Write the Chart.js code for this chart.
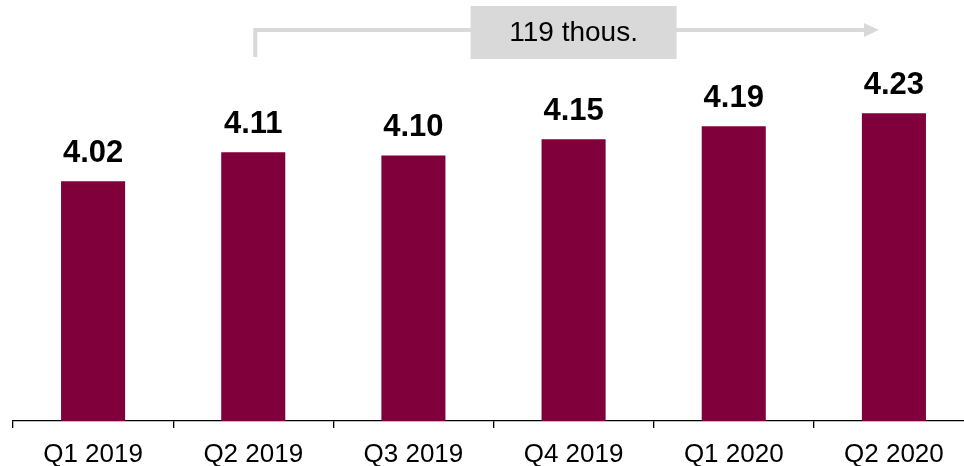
<!DOCTYPE html>
<html>
<head>
<meta charset="utf-8">
<script src="https://cdn.jsdelivr.net/npm/chart.js@4"></script>
<style>
  html, body { margin: 0; padding: 0; background: #fff; overflow: hidden; }
  #wrap { position: absolute; left: 0; top: 0; width: 974px; height: 466px; }
</style>
</head>
<body>
<div id="wrap"><canvas id="chart"></canvas></div>
<script>
// Quarterly figures (millions)
const quarters = ['Q1 2019', 'Q2 2019', 'Q3 2019', 'Q4 2019', 'Q1 2020', 'Q2 2020'];
const values = [4.02, 4.11, 4.10, 4.15, 4.19, 4.23];
const valueLabels = ['4.02', '4.11', '4.10', '4.15', '4.19', '4.23'];
// Growth callout from Q2 2019 to Q2 2020
const growthLabel = '119 thous.';
const growthFrom = 1;
const growthTo = 5;

const FONT = '"Liberation Sans", Arial, Helvetica, sans-serif';
const BAR = '#7f003a';
const CALLOUT = '#d9d9d9';

// Bold value labels above each bar
const valueLabelPlugin = {
  id: 'valueLabels',
  afterDatasetsDraw(chart) {
    const ctx = chart.ctx;
    const meta = chart.getDatasetMeta(0);
    ctx.save();
    ctx.font = 'bold 31px ' + FONT;
    ctx.fillStyle = '#000';
    ctx.textAlign = 'center';
    ctx.textBaseline = 'alphabetic';
    meta.data.forEach((bar, i) => {
      ctx.fillText(valueLabels[i], bar.x, bar.y - 19);
    });
    ctx.restore();
  }
};

// Elbow arrow with a grey box carrying the change
const growthArrowPlugin = {
  id: 'growthArrow',
  afterDraw(chart) {
    const ctx = chart.ctx;
    const xs = chart.scales.x;
    const x0 = xs.getPixelForValue(growthFrom) + 2;
    const x1 = xs.getPixelForValue(growthTo) - 15;
    const yLine = 30;
    const yFoot = 57;
    ctx.save();
    ctx.strokeStyle = CALLOUT;
    ctx.fillStyle = CALLOUT;
    ctx.lineWidth = 4;
    ctx.lineJoin = 'miter';
    ctx.beginPath();
    ctx.moveTo(x0, yFoot);
    ctx.lineTo(x0, yLine);
    ctx.lineTo(x1 - 14, yLine);
    ctx.stroke();
    // arrow head
    ctx.beginPath();
    ctx.moveTo(x1 - 15, yLine - 7);
    ctx.lineTo(x1, yLine);
    ctx.lineTo(x1 - 15, yLine + 7);
    ctx.closePath();
    ctx.fill();
    // label box
    const cx = (xs.getPixelForValue(growthFrom) + xs.getPixelForValue(growthTo)) / 2;
    const bw = 206, bh = 53;
    ctx.fillRect(cx - bw / 2, 6, bw, bh);
    ctx.fillStyle = '#000';
    ctx.font = '28px ' + FONT;
    ctx.textAlign = 'center';
    ctx.textBaseline = 'middle';
    ctx.fillText(growthLabel, cx, 33);
    ctx.restore();
  }
};

new Chart(document.getElementById('chart'), {
  type: 'bar',
  data: {
    labels: quarters,
    datasets: [{
      data: values,
      backgroundColor: BAR,
      borderWidth: 0,
      barPercentage: 0.4,
      categoryPercentage: 1.0
    }]
  },
  options: {
    responsive: true,
    maintainAspectRatio: false,
    devicePixelRatio: 1,
    animation: false,
    layout: { padding: { left: 13, right: 0, top: 0, bottom: 0 } },
    plugins: {
      legend: { display: false },
      tooltip: { enabled: false }
    },
    scales: {
      x: {
        offset: true,
        afterFit(scale) { scale.height = 45; },
        grid: {
          offset: true,
          drawOnChartArea: false,
          drawTicks: true,
          tickLength: 7,
          color: '#000',
          lineWidth: 1.3
        },
        border: { display: true, color: '#000', width: 1.3 },
        ticks: {
          color: '#000',
          padding: 14,
          maxRotation: 0,
          font: { family: FONT, size: 26, lineHeight: 1 }
        }
      },
      y: {
        display: false,
        min: 3.28,
        max: 4.58
      }
    }
  },
  plugins: [valueLabelPlugin, growthArrowPlugin]
});
</script>
</body>
</html>
